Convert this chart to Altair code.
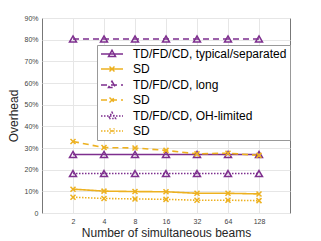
import altair as alt
import pandas as pd

beams = [2, 4, 8, 16, 32, 64, 128]
series_names = [
    "TD/FD/CD, typical/separated",
    "SD, typical/separated",
    "TD/FD/CD, long",
    "SD, long",
    "TD/FD/CD, OH-limited",
    "SD, OH-limited",
]
td_typ = [27.0, 27.0, 27.0, 27.0, 27.0, 27.0, 27.0]
sd_typ = [11.0, 10.1, 9.9, 9.8, 9.1, 9.1, 8.8]
td_long = [80.3, 80.3, 80.3, 80.3, 80.3, 80.3, 80.3]
sd_long = [33.0, 30.2, 30.0, 28.9, 27.3, 27.6, 26.6]
td_oh = [18.2, 18.2, 18.2, 18.2, 18.2, 18.2, 18.2]
sd_oh = [7.3, 6.7, 6.5, 6.3, 5.9, 5.9, 5.7]
y_ticks = [0, 10, 20, 30, 40, 50, 60, 70, 80, 90]

all_vals = [td_typ, sd_typ, td_long, sd_long, td_oh, sd_oh]
rows = []
for name, vals in zip(series_names, all_vals):
    for b, v in zip(beams, vals):
        rows.append({"beams": b, "overhead": v, "series": name})
df = pd.DataFrame(rows)

PURPLE = "#7E2F8E"
ORANGE = "#EDB120"
colors = [PURPLE, ORANGE, PURPLE, ORANGE, PURPLE, ORANGE]
dashes = [[1, 0], [1, 0], [6, 4], [6, 4], [1.5, 1.5], [1.5, 1.5]]
TRI = "M0,-0.866L1,0.866L-1,0.866Z"
XSH = "M-1,-1L1,1M-1,1L1,-1"

LEG_TRI = "M-2.2,0H2.2M0,-0.75L0.7,0.5L-0.7,0.5Z"
LEG_X = "M-2.2,0H2.2M-0.5,-0.5L0.5,0.5M-0.5,0.5L0.5,-0.5"

FONT = "Liberation Sans"

x_enc = alt.X(
    "beams:Q",
    scale=alt.Scale(type="log", base=2, domain=[1, 256], nice=False),
    axis=alt.Axis(
        values=beams,
        title="Number of simultaneous beams",
        labelFontSize=7,
        labelColor="#444",
        labelPadding=4,
        titleFontSize=12,
        titleFontWeight="normal",
        titleColor="#262626",
        titlePadding=3,
        ticks=False,
        domain=False,
        grid=True,
        gridColor="#e6e6e6",
        labelFont=FONT,
        titleFont=FONT,
    ),
)
y_enc = alt.Y(
    "overhead:Q",
    scale=alt.Scale(domain=[0, 90], nice=False),
    axis=alt.Axis(
        values=y_ticks,
        title="Overhead",
        labelExpr="datum.value == 0 ? '0' : datum.value + '%'",
        labelFontSize=7,
        labelColor="#444",
        labelPadding=4,
        titleFontSize=12,
        titleFontWeight="normal",
        titleColor="#262626",
        titlePadding=3,
        ticks=False,
        domain=False,
        grid=True,
        gridColor="#e6e6e6",
        labelFont=FONT,
        titleFont=FONT,
    ),
)

shape_expr = "datum.index % 2 == 0 ? '" + LEG_TRI + "' : '" + LEG_X + "'"
dash_expr = "datum.index < 2 ? [1, 0] : (datum.index < 4 ? [4, 2.5] : [1.2, 1.2])"

legend = alt.Legend(
    orient="none",
    legendX=55,
    legendY=27,
    title=None,
    fillColor="white",
    strokeColor="#999",
    padding=3,
    labelFontSize=12,
    labelFont=FONT,
    labelColor="#000",
    labelOffset=15,
    symbolOffset=6,
    symbolSize=100,
    symbolStrokeWidth=1.5,
    symbolFillColor="transparent",
    symbolType=alt.ExprRef(shape_expr),
    symbolDash=alt.ExprRef(dash_expr),
    symbolOpacity=1,
    rowPadding=3,
    labelExpr="indexof(datum.label, 'SD') == 0 ? 'SD' : datum.label",
)

color_scale = alt.Scale(domain=series_names, range=colors)

lines = alt.Chart(df).mark_line(strokeWidth=1.6).encode(
    x=x_enc,
    y=y_enc,
    color=alt.Color("series:N", scale=color_scale, sort=series_names, legend=legend),
    strokeDash=alt.StrokeDash(
        "series:N",
        scale=alt.Scale(domain=series_names, range=dashes),
        legend=None,
    ),
    detail="series:N",
)

tri_points = (
    alt.Chart(df)
    .transform_filter("indexof(datum.series, 'TD') == 0")
    .mark_point(filled=False, strokeWidth=1.5, size=49, opacity=1, shape=TRI)
    .encode(x=x_enc, y=y_enc, color=alt.Color("series:N", scale=color_scale, legend=None))
)
x_points = (
    alt.Chart(df)
    .transform_filter("indexof(datum.series, 'SD') == 0")
    .mark_point(filled=False, strokeWidth=1.5, size=25, opacity=1, shape=XSH)
    .encode(x=x_enc, y=y_enc, color=alt.Color("series:N", scale=color_scale, legend=None))
)

chart = (
    alt.layer(lines, tri_points, x_points)
    .properties(
        width=248,
        height=195,
        autosize=alt.AutoSizeParams(type="none"),
        padding={"left": 34, "top": 10, "right": 23, "bottom": 25},
        background="white",
    )
    .configure_view(stroke="#777", strokeWidth=1)
)

chart.save("out.html", embed_options={"renderer": "svg", "actions": False})
